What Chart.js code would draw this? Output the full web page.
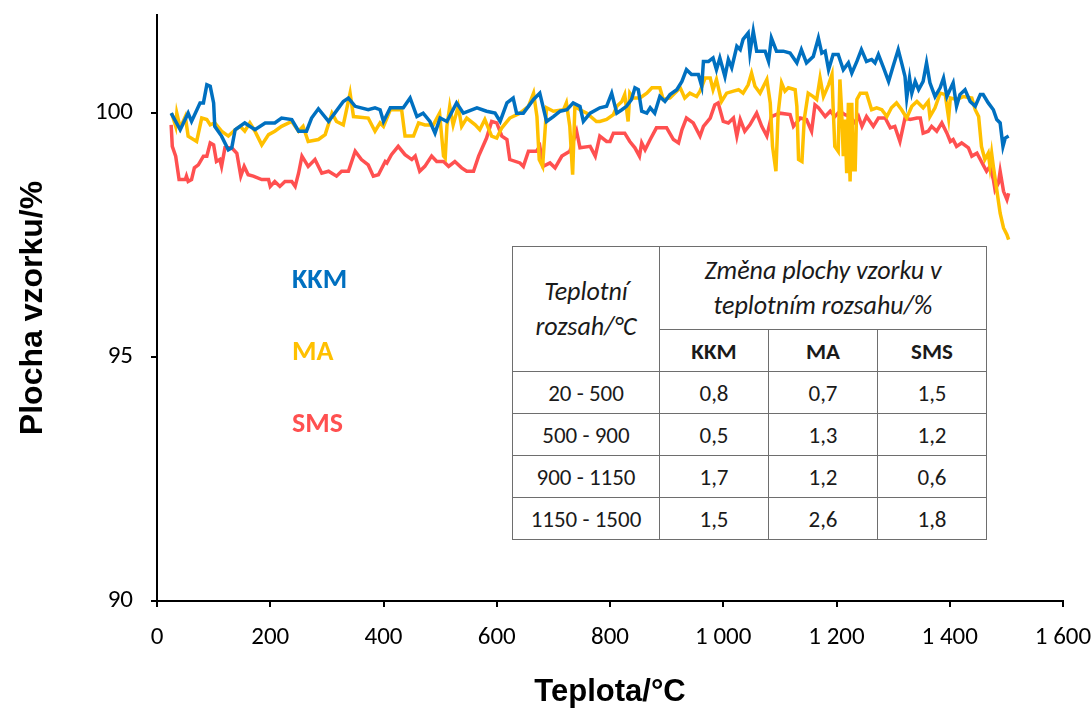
<!DOCTYPE html>
<html lang="cs">
<head>
  <meta charset="UTF-8" />
  <title>Plocha vzorku v závislosti na teplotě</title>
  <script src="https://cdn.jsdelivr.net/npm/chart.js"></script>
  <style>
    html, body {
      margin: 0;
      padding: 0;
      background: #fff;
    }

    #wrap {
      position: relative;
      width: 1092px;
      height: 713px;
    }

    #graf {
      position: absolute;
      left: 0;
      top: 0;
    }

    .serie {
      position: absolute;
      left: 292px;
      font: bold 28px Carlito, Calibri, Lato, sans-serif;
      line-height: 1;
    }

    #tabulka {
      position: absolute;
      left: 512px;
      top: 246px;
      border-collapse: collapse;
      table-layout: fixed;
      font: 23px Carlito, Calibri, Lato, sans-serif;
      color: #1a1a1a;
      background: #fff;
    }

    #tabulka th, #tabulka td {
      border: 1px solid #6e6e6e;
      text-align: center;
      padding: 0;
    }

    #tabulka th.hlava {
      font-style: italic;
      font-weight: normal;
      font-size: 26px;
      line-height: 35px;
    }

    #tabulka th.vzorek {
      font-weight: bold;
    }
  </style>
</head>
<body>
  <div id="wrap">
    <canvas id="graf" width="1092" height="713"></canvas>
    <div class="serie" id="lblKKM" style="top:265px">KKM</div>
    <div class="serie" id="lblMA" style="top:337px">MA</div>
    <div class="serie" id="lblSMS" style="top:409px">SMS</div>
    <table id="tabulka">
      <colgroup>
        <col style="width:147px" />
        <col style="width:109px" />
        <col style="width:109px" />
        <col style="width:109px" />
      </colgroup>
      <thead>
        <tr style="height:83px">
          <th class="hlava" rowspan="2">Teplotní<br />rozsah/°C</th>
          <th class="hlava" colspan="3">Změna plochy vzorku v<br />teplotním rozsahu/%</th>
        </tr>
        <tr style="height:42px" id="hlavaVzorky"></tr>
      </thead>
      <tbody id="teloTabulky"></tbody>
    </table>
  </div>

  <script>
    // teplota (°C) a plocha vzorku (%)
    const kkmT = [25, 41, 55, 61, 76, 82, 88, 94, 100, 102, 114, 126, 132, 138, 155, 173, 191, 208, 220, 238, 250, 264, 273, 285, 303, 314, 329, 338, 350, 373, 385,
      394, 400, 412, 435, 447, 459, 470, 482, 491, 500, 512, 529, 541, 565, 582, 597, 606, 618, 629, 635, 647, 665, 676, 688, 700, 712, 724, 735, 747, 753, 765,
      782, 794, 803, 812, 821, 829, 838, 844, 850, 856, 865, 871, 879, 888, 897, 906, 918, 927, 935, 944, 956, 962, 965, 974, 982, 988, 994, 1003, 1009, 1015,
      1024, 1030, 1035, 1044, 1047, 1053, 1059, 1074, 1080, 1085, 1094, 1106, 1118, 1130, 1138, 1147, 1159, 1168, 1174, 1180, 1186, 1194, 1203, 1212, 1221,
      1227, 1236, 1244, 1253, 1262, 1268, 1274, 1283, 1292, 1300, 1309, 1315, 1321, 1324, 1329, 1333, 1339, 1345, 1353, 1359, 1365, 1374, 1383, 1389, 1395,
      1406, 1412, 1418, 1427, 1436, 1445, 1454, 1459, 1468, 1477, 1483, 1489, 1494, 1498, 1504];
    const kkmV = [99.99, 99.65, 99.99, 99.82, 100.20, 100.20, 100.57, 100.54, 100.20, 99.72, 99.52, 99.24, 99.28, 99.65, 99.79, 99.65, 99.79, 99.79, 99.89, 99.86, 99.62, 99.62, 99.89, 100.08, 99.82, 99.99, 100.23, 100.30, 100.13, 100.06, 100.10,
      100.06, 99.82, 100.10, 100.10, 100.30, 99.92, 99.99, 99.82, 99.58, 99.89, 99.82, 100.20, 99.99, 100.10, 100.03, 99.99, 99.82, 100.20, 100.30, 99.99, 99.99, 100.27, 100.40, 99.82, 99.92, 100.03, 100.06, 100.20, 100.13, 99.82, 99.99,
      100.10, 100.13, 100.40, 99.99, 100.06, 100.13, 100.27, 100.51, 100.47, 100.03, 99.99, 100.10, 99.99, 100.33, 100.23, 100.37, 100.47, 100.64, 100.88, 100.78, 100.78, 100.54, 101.05, 101.05, 101.12, 100.88, 101.12, 100.74, 101.09, 100.92,
      101.36, 101.29, 101.50, 101.63, 101.22, 101.67, 101.26, 101.26, 101.05, 101.53, 101.26, 101.26, 101.22, 101.02, 101.29, 101.02, 101.15, 101.53, 101.22, 101.26, 100.88, 101.19, 101.19, 100.88, 101.02,
      100.81, 101.05, 101.29, 101.05, 101.09, 101.02, 101.19, 100.92, 100.64, 100.95, 101.29, 101.02, 100.74, 100.30, 100.71, 100.40, 100.64, 100.47, 100.64, 101.02, 100.61, 100.33, 100.51, 100.71, 100.33,
      100.61, 100.13, 100.37, 100.47, 100.23, 100.13, 100.37, 100.37, 100.20, 100.06, 99.86, 99.79, 99.31, 99.48, 99.52];

    const maT = [26, 33, 35, 41, 50, 55, 70, 79, 88, 94, 102, 114, 126, 138, 147, 155, 164, 173, 185, 197, 208, 220, 238, 250, 258, 267, 285, 297, 309, 317, 329, 341, 347, 373, 385,
      394, 400, 412, 432, 438, 453, 462, 473, 488, 499, 506, 509, 512, 517, 523, 532, 538, 547, 562, 570, 579, 591, 600, 609, 623, 641, 656, 665, 671, 675, 681, 685, 688, 700, 718, 723, 729, 734, 738, 747, 759, 776,
      782, 794, 806, 812, 821, 826, 832, 835, 841, 853, 865, 874, 888, 894, 906, 924, 932, 941, 953, 959, 968, 977, 982, 988, 997, 1006, 1018, 1027, 1035, 1044, 1050, 1056, 1065, 1077, 1083, 1087, 1093, 1097,
      1103, 1109, 1115, 1127, 1130, 1133, 1139, 1143, 1150, 1159, 1165,
      1171, 1177, 1186, 1192, 1194, 1197, 1203, 1206, 1209, 1212, 1215, 1218, 1221, 1224, 1227, 1230, 1233, 1236, 1242, 1253, 1262, 1271, 1280, 1289, 1297, 1306, 1315, 1324, 1333, 1342, 1353, 1362, 1365,
      1374, 1383, 1392, 1398, 1401, 1412, 1424, 1439, 1445, 1451, 1456, 1462, 1468, 1471, 1474, 1477, 1483, 1489, 1495, 1501, 1504];
    const maV = [99.99, 99.72, 99.99, 99.69, 99.92, 99.52, 99.41, 99.89, 99.86, 99.75, 99.79, 99.62, 99.52, 99.65, 99.72, 99.62, 99.79, 99.62, 99.34, 99.55, 99.62, 99.72, 99.82, 99.62, 99.72, 99.41, 99.45, 99.55, 99.99, 99.82, 99.75, 100.40, 99.92, 99.89, 99.62,
      99.79, 99.72, 100.06, 100.06, 99.52, 99.52, 99.79, 99.75, 99.75, 99.99, 99.11, 99.07, 99.72, 100.13, 99.75, 100.13, 99.72, 99.89, 99.75, 99.65, 99.86, 99.52, 99.48, 99.69, 99.89, 99.99, 100.13, 100.40, 99.92, 99.04, 98.90, 99.58, 100.10, 100.03, 100.06, 100.20, 99.72, 98.73, 100.13, 100.06, 99.99, 99.82,
      99.82, 99.86, 99.96, 100.13, 100.23, 100.37, 99.82, 100.40, 100.30, 100.30, 100.40, 100.51, 100.51, 100.27, 100.30, 100.51, 100.30, 100.40, 100.33, 100.44, 100.71, 100.71, 100.47, 100.68, 100.23, 100.40, 100.44, 100.47, 100.40, 100.57, 100.81, 100.54, 100.40, 100.68, 100.20, 99.31, 98.80, 99.99,
      100.61, 100.44, 100.51, 100.47, 100.13, 99.04, 99.00, 99.86, 100.40, 100.33, 100.27,
      100.71, 100.33, 100.57, 100.78, 100.13, 99.31, 99.21, 100.68, 100.06, 99.11, 99.86, 98.76, 100.20, 98.59, 100.20, 98.83, 98.83, 100.27, 100.40, 100.40, 100.06, 100.10, 100.06, 99.92, 100.10, 100.20, 100.06, 99.89, 100.13, 100.23, 100.10, 100.23, 99.92,
      100.10, 100.40, 100.37, 99.89, 100.30, 100.27, 100.33, 100.30, 100.06, 99.92, 99.31, 99.04, 99.17, 98.90, 99.17, 98.90, 98.42, 97.94, 97.64, 97.50, 97.40];

    const smsT = [25, 27, 33, 39, 50, 52, 55, 61, 66, 73, 82, 88, 94, 100, 105, 111, 114, 120, 132, 141, 148, 154, 161, 170, 185, 197, 200, 208, 217, 226, 238, 244, 250, 256, 267, 279, 291, 303, 317, 326, 338, 350, 361, 373, 382, 391, 403,
      406, 414, 426, 438, 450, 456, 464, 473, 485, 494, 506, 515, 526, 538, 547, 559, 568, 582, 591, 600, 609, 618, 623, 641, 647, 656, 670, 676, 682, 694, 703, 715, 729, 741, 747, 765, 774,
      782, 794, 800, 806, 826, 835, 844, 852, 856, 862, 871, 882, 900, 912, 921, 927, 935, 947, 959, 965, 977, 985, 991, 1000, 1009, 1018, 1024, 1030, 1038, 1047, 1059, 1068, 1077, 1085, 1100,
      1118, 1124, 1136, 1147, 1156, 1162, 1168,
      1180, 1189, 1197, 1206, 1215, 1224, 1233, 1239, 1245, 1253, 1265, 1274, 1286, 1295, 1303, 1312, 1321, 1330, 1342, 1348, 1353, 1362, 1368, 1377, 1386, 1395, 1401, 1406, 1412, 1421, 1433,
      1439, 1448, 1454, 1459, 1465, 1471, 1477, 1480, 1486, 1489, 1495, 1501, 1504];
    const smsV = [99.75, 99.31, 99.11, 98.63, 98.63, 98.70, 98.59, 98.63, 98.87, 98.93, 99.11, 99.11, 99.38, 99.34, 99.00, 99.04, 98.90, 99.28, 99.28, 99.17, 98.70, 98.90, 98.73, 98.70, 98.63, 98.63, 98.49, 98.59, 98.49, 98.59, 98.59, 98.49, 98.76, 99.11, 98.90, 99.04, 98.76, 98.80, 98.70, 98.80, 98.80, 99.21, 99.04, 98.93, 98.70, 98.73, 99.00,
      98.97, 99.14, 99.31, 99.14, 99.04, 99.11, 98.80, 98.90, 99.11, 99.00, 99.00, 98.90, 99.00, 98.87, 98.80, 98.80, 99.11, 99.48, 99.82, 99.79, 99.52, 99.45, 99.04, 98.97, 98.90, 99.21, 99.21, 99.31, 98.90, 98.97, 98.87, 99.11, 99.21, 99.62, 99.28, 99.31, 99.11,
      99.52, 99.41, 99.41, 99.58, 99.58, 99.41, 99.28, 99.11, 99.38, 99.24, 99.45, 99.69, 99.69, 99.45, 99.38, 99.65, 99.89, 99.79, 99.52, 99.72, 99.89, 100.16, 100.20, 99.82, 99.79, 99.89, 99.52, 99.86, 99.62, 99.75, 99.99, 99.72, 99.52, 99.92, 99.99,
      99.96, 99.72, 99.89, 99.86, 99.62, 100.16, 100.10,
      99.92, 100.03, 99.92, 100.03, 99.96, 99.92, 99.79, 99.92, 99.72, 99.92, 99.72, 99.89, 99.89, 99.69, 99.72, 99.41, 99.89, 99.86, 99.89, 99.89, 99.58, 99.62, 99.72, 99.62, 99.79, 99.58, 99.41, 99.45, 99.31, 99.38, 99.28,
      99.11, 99.17, 99.04, 98.93, 98.80, 98.90, 98.63, 98.42, 98.56, 98.80, 98.39, 98.22, 98.35];

    const xTicks = [0, 200, 400, 600, 800, 1000, 1200, 1400, 1600];
    const xTickLabels = ['0', '200', '400', '600', '800', '1 000', '1 200', '1 400', '1 600'];
    const yTicks = [90, 95, 100];

    // tabulka: změna plochy vzorku v teplotním rozsahu
    const rozsahy = ['20 - 500', '500 - 900', '900 - 1150', '1150 - 1500'];
    const vzorky = ['KKM', 'MA', 'SMS'];
    const zmenaKKM = [0.8, 0.5, 1.7, 1.5];
    const zmenaMA = [0.7, 1.3, 1.2, 2.6];
    const zmenaSMS = [1.5, 1.2, 0.6, 1.8];

    const modra = '#0070c0';
    const zluta = '#ffc000';
    const cervena = '#ff5050';

    document.getElementById('lblKKM').style.color = modra;
    document.getElementById('lblMA').style.color = zluta;
    document.getElementById('lblSMS').style.color = cervena;

    // hlavička a řádky tabulky
    document.getElementById('hlavaVzorky').innerHTML =
      vzorky.map(v => `<th class="vzorek">${v}</th>`).join('');
    const cislo = v => v.toFixed(1).replace('.', ',');
    document.getElementById('teloTabulky').innerHTML = rozsahy.map((r, i) => `
      <tr style="height:42px">
        <td>${r}</td><td>${cislo(zmenaKKM[i])}</td><td>${cislo(zmenaMA[i])}</td><td>${cislo(zmenaSMS[i])}</td>
      </tr>`).join('');

    const body = (t, v) => t.map((x, i) => ({ x: x, y: v[i] }));
    const serie = (label, t, v, color) => ({
      label: label,
      data: body(t, v),
      borderColor: color,
      borderWidth: 3.5,
      pointRadius: 0,
      tension: 0,
      fill: false,
    });

    const pismoOsy = "Carlito, Calibri, Lato, sans-serif";

    new Chart(document.getElementById('graf'), {
      type: 'line',
      data: {
        datasets: [
          serie('KKM', kkmT, kkmV, modra),
          serie('MA', maT, maV, zluta),
          serie('SMS', smsT, smsV, cervena),
        ],
      },
      options: {
        responsive: false,
        animation: false,
        layout: { padding: { top: 15, right: 29, left: 0, bottom: 0 } },
        plugins: {
          legend: { display: false },
          tooltip: { enabled: false },
        },
        scales: {
          x: {
            type: 'linear',
            min: 0,
            max: 1600,
            afterBuildTicks: s => { s.ticks = xTicks.map(v => ({ value: v })); },
            afterFit: s => { s.height = 112; s.paddingLeft = 0; s.paddingRight = 0; },
            border: { display: true, color: '#000', width: 2 },
            grid: { display: true, drawOnChartArea: false, drawTicks: true, tickLength: 6, color: '#000', lineWidth: 2 },
            ticks: {
              color: '#000',
              padding: 16,
              maxRotation: 0,
              font: { family: pismoOsy, size: 25 },
              callback: (v, i) => xTickLabels[i],
            },
            title: {
              display: true,
              text: 'Teplota/°C',
              color: '#000',
              font: { family: "'Liberation Sans', Arial, sans-serif", size: 31, weight: 'bold' },
              padding: { top: 0, bottom: 2 },
            },
          },
          y: {
            min: 90,
            max: 102,
            afterBuildTicks: s => { s.ticks = yTicks.map(v => ({ value: v })); },
            afterFit: s => { s.width = 157; s.paddingTop = 0; s.paddingBottom = 0; },
            border: { display: true, color: '#000', width: 2 },
            grid: { display: true, drawOnChartArea: false, drawTicks: true, tickLength: 6, color: '#000', lineWidth: 2 },
            ticks: {
              color: '#000',
              padding: 18,
              font: { family: pismoOsy, size: 25 },
            },
            title: {
              display: true,
              text: 'Plocha vzorku/%',
              color: '#000',
              font: { family: "'Liberation Sans', Arial, sans-serif", size: 32, weight: 'bold' },
              padding: { top: 14, bottom: 0 },
            },
          },
        },
      },
    });
  </script>
</body>
</html>
